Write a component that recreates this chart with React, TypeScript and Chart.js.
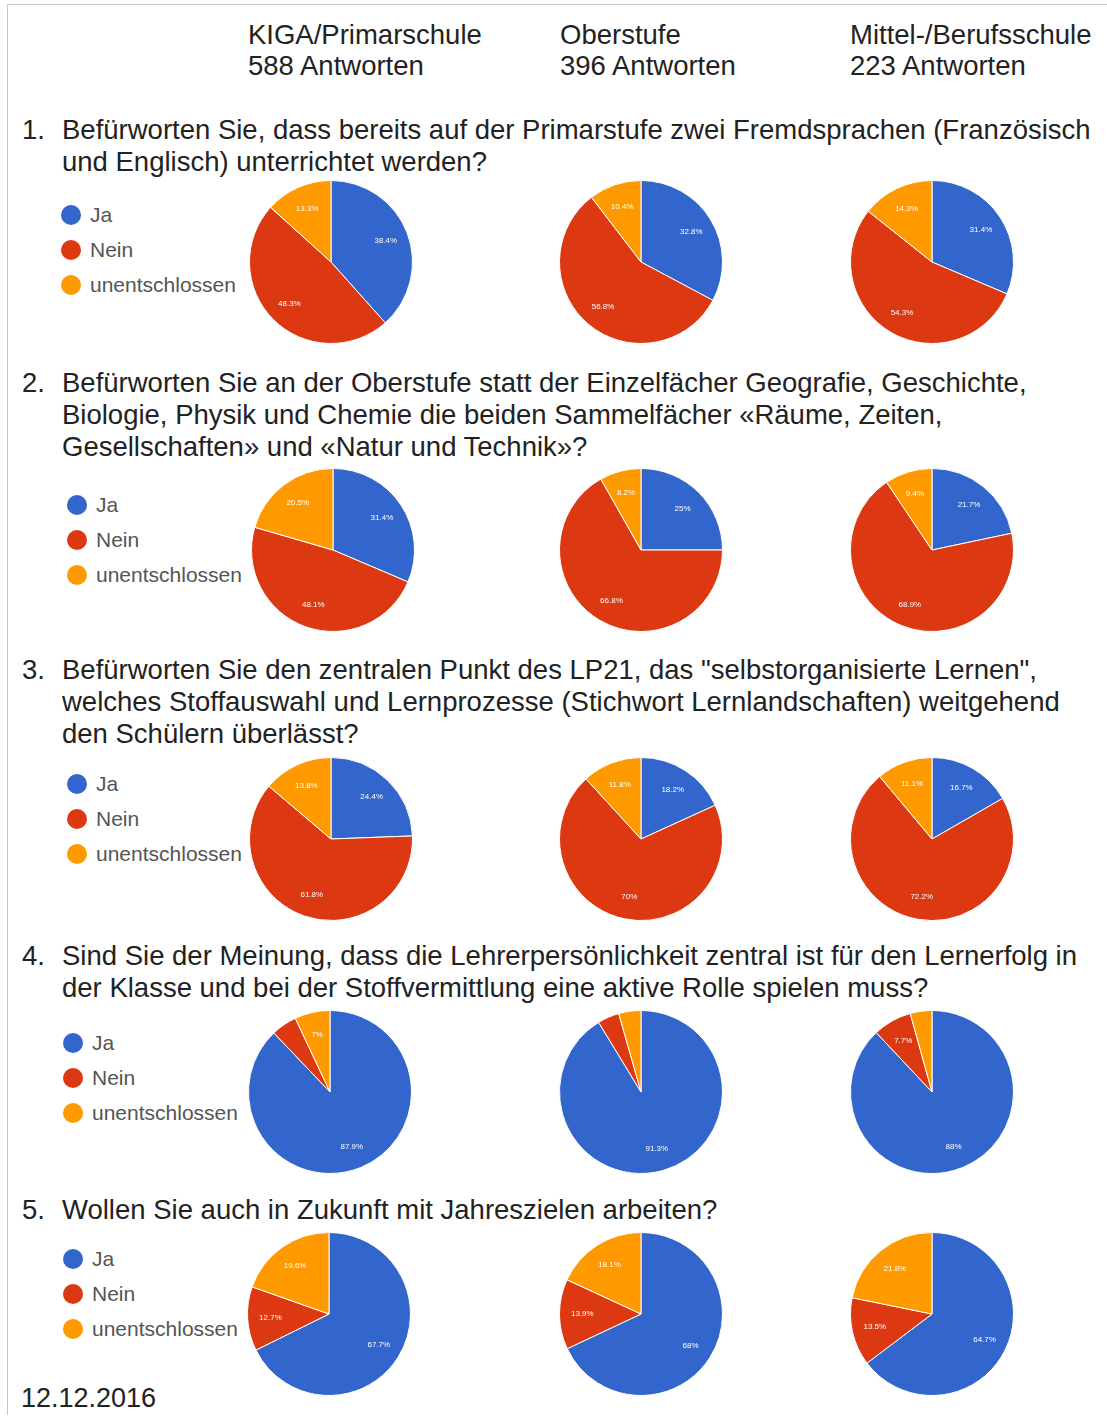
import React, { useEffect, useRef } from "react";
import { Chart, registerables } from "chart.js";

Chart.register(...registerables);

const categories = ["Ja", "Nein", "unentschlossen"];
const schools = ["KIGA/Primarschule", "Oberstufe", "Mittel-/Berufsschule"];
const responses = [588, 396, 223];
const sliceColors = ["#3366CC", "#DC3912", "#FF9900"];
const dateLabel = "12.12.2016";

const q1Text = [
  "Befürworten Sie, dass bereits auf der Primarstufe zwei Fremdsprachen (Französisch",
  "und Englisch) unterrichtet werden?",
];
const q2Text = [
  "Befürworten Sie an der Oberstufe statt der Einzelfächer Geografie, Geschichte,",
  "Biologie, Physik und Chemie die beiden Sammelfächer «Räume, Zeiten,",
  "Gesellschaften» und «Natur und Technik»?",
];
const q3Text = [
  "Befürworten Sie den zentralen Punkt des LP21, das \"selbstorganisierte Lernen\",",
  "welches Stoffauswahl und Lernprozesse (Stichwort Lernlandschaften) weitgehend",
  "den Schülern überlässt?",
];
const q4Text = [
  "Sind Sie der Meinung, dass die Lehrerpersönlichkeit zentral ist für den Lernerfolg in",
  "der Klasse und bei der Stoffvermittlung eine aktive Rolle spielen muss?",
];
const q5Text = ["Wollen Sie auch in Zukunft mit Jahreszielen arbeiten?"];

// values per school: [Ja, Nein, unentschlossen] in percent
const q1Values = [[38.4, 48.3, 13.3], [32.8, 56.8, 10.4], [31.4, 54.3, 14.3]];
const q2Values = [[31.4, 48.1, 20.5], [25, 66.8, 8.2], [21.7, 68.9, 9.4]];
const q3Values = [[24.4, 61.8, 13.8], [18.2, 70, 11.8], [16.7, 72.2, 11.1]];
const q4Values = [[87.9, 5.1, 7.0], [91.3, 4.3, 4.4], [88, 7.7, 4.3]];
const q5Values = [[67.7, 12.7, 19.6], [68, 13.9, 18.1], [64.7, 13.5, 21.8]];

const FONT = '"Liberation Sans", Arial, Helvetica, sans-serif';

function fmt(v: number) {
  return Number.isInteger(v) ? `${v}%` : `${v.toFixed(1)}%`;
}

const sliceLabels = {
  id: "sliceLabels",
  afterDatasetsDraw(chart: any) {
    const ctx = chart.ctx;
    const meta = chart.getDatasetMeta(0);
    const data = chart.data.datasets[0].data as number[];
    meta.data.forEach((arc: any, i: number) => {
      const v = data[i];
      if (v < 6) return;
      const p = arc.getProps(["x", "y", "startAngle", "endAngle", "outerRadius"], true);
      const a = (p.startAngle + p.endAngle) / 2;
      const r = p.outerRadius * 0.72;
      ctx.save();
      ctx.fillStyle = "#ffffff";
      ctx.font = `8px ${FONT}`;
      ctx.textAlign = "center";
      ctx.textBaseline = "middle";
      ctx.fillText(fmt(v), p.x + Math.cos(a) * r, p.y + Math.sin(a) * r);
      ctx.restore();
    });
  },
};

const SIZE = 164;

function Pie({ values, cx, cy }: { values: number[]; cx: number; cy: number }) {
  const ref = useRef<HTMLCanvasElement | null>(null);
  useEffect(() => {
    if (!ref.current) return;
    const chart = new Chart(ref.current, {
      type: "pie",
      data: {
        labels: categories,
        datasets: [
          {
            data: values,
            backgroundColor: sliceColors,
            borderColor: "#ffffff",
            borderWidth: 1,
            hoverBorderWidth: 1,
            hoverOffset: 0,
          },
        ],
      },
      options: {
        responsive: false,
        animation: false,
        events: [],
        layout: { padding: 0 },
        plugins: { legend: { display: false }, tooltip: { enabled: false } },
      },
      plugins: [sliceLabels],
    });
    return () => chart.destroy();
  }, [values]);
  return (
    <canvas
      ref={ref}
      width={SIZE}
      height={SIZE}
      style={{ position: "absolute", left: cx - SIZE / 2, top: cy - SIZE / 2, width: SIZE, height: SIZE }}
    />
  );
}

function Legend({ x, ys }: { x: number; ys: number[] }) {
  return (
    <>
      {categories.map((c, i) => (
        <div key={c}>
          <div
            style={{
              position: "absolute",
              left: x - 10,
              top: ys[i] - 10,
              width: 20,
              height: 20,
              borderRadius: 10,
              background: sliceColors[i],
            }}
          />
          <div
            style={{
              position: "absolute",
              left: x + 19,
              top: ys[i] - 14,
              height: 28,
              lineHeight: "28px",
              fontSize: 21,
              fontFamily: FONT,
              color: "#555",
              whiteSpace: "nowrap",
            }}
          >
            {c}
          </div>
        </div>
      ))}
    </>
  );
}

function TextLine({ x, y, text, size = 27.5, color = "#222" }: { x: number; y: number; text: string; size?: number; color?: string }) {
  return (
    <div
      style={{
        position: "absolute",
        left: x,
        top: y - 16,
        height: 32,
        lineHeight: "32px",
        fontSize: size,
        fontFamily: FONT,
        color,
        whiteSpace: "nowrap",
      }}
    >
      {text}
    </div>
  );
}

function Question({ num, lines, y }: { num: number; lines: string[]; y: number }) {
  return (
    <>
      <TextLine x={22} y={y} text={`${num}.`} />
      {lines.map((l, i) => (
        <TextLine key={i} x={62} y={y + i * 32} text={l} />
      ))}
    </>
  );
}

const rows = [
  { text: q1Text, values: q1Values, qy: 130, pieY: 262, pieX: [331, 641, 932], legX: 71, legY: [215, 250, 285] },
  { text: q2Text, values: q2Values, qy: 383, pieY: 550, pieX: [333, 641, 932], legX: 77, legY: [505, 540, 575] },
  { text: q3Text, values: q3Values, qy: 670, pieY: 839, pieX: [331, 641, 932], legX: 77, legY: [784, 819, 854] },
  { text: q4Text, values: q4Values, qy: 956, pieY: 1092, pieX: [330, 641, 932], legX: 73, legY: [1043, 1078, 1113] },
  { text: q5Text, values: q5Values, qy: 1210, pieY: 1314, pieX: [329, 641, 932], legX: 73, legY: [1259, 1294, 1329] },
];

const headerX = [248, 560, 850];

export default function App() {
  return (
    <div
      style={{
        position: "absolute",
        left: 0,
        top: 0,
        width: 1107,
        height: 1417,
        background: "#fff",
        overflow: "hidden",
      }}
    >
      <div style={{ position: "absolute", left: 7, top: 4, width: 1, height: 1411, background: "#c8c8c8" }} />
      <div style={{ position: "absolute", left: 7, top: 4, width: 1100, height: 1, background: "#c8c8c8" }} />
      {schools.map((s, i) => (
        <React.Fragment key={s}>
          <TextLine x={headerX[i]} y={35} text={s} />
          <TextLine x={headerX[i]} y={66} text={`${responses[i]} Antworten`} />
        </React.Fragment>
      ))}
      {rows.map((r, ri) => (
        <React.Fragment key={ri}>
          <Question num={ri + 1} lines={r.text} y={r.qy} />
          <Legend x={r.legX} ys={r.legY} />
          {r.values.map((v, si) => (
            <Pie key={si} values={v} cx={r.pieX[si]} cy={r.pieY} />
          ))}
        </React.Fragment>
      ))}
      <TextLine x={21} y={1398} text={dateLabel} size={27} />
    </div>
  );
}
